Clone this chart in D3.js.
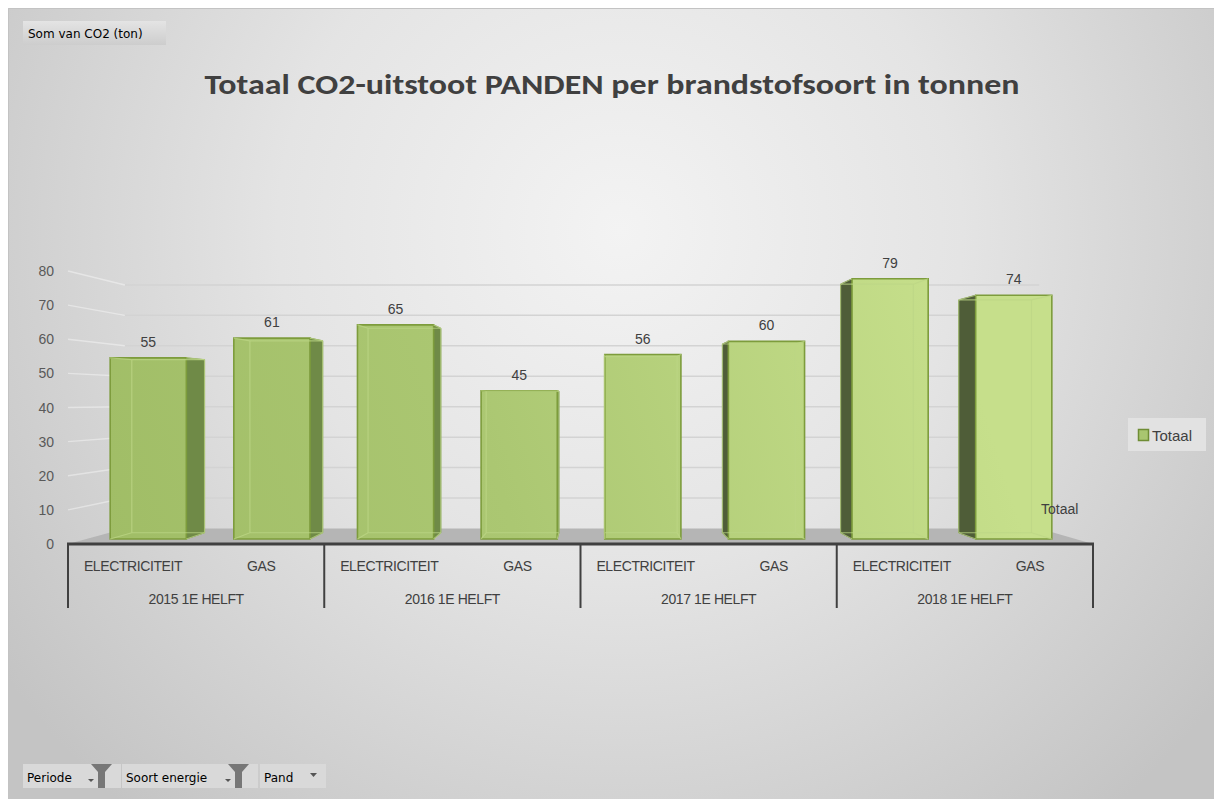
<!DOCTYPE html>
<html>
<head>
<meta charset="utf-8">
<script src="https://cdn.jsdelivr.net/npm/d3@7"></script>
<style>
  body { margin: 0; background: #fff; }
  svg { display: block; }
</style>
</head>
<body>
<svg id="chart" width="1214" height="799"></svg>
<script>
// data
var periods = ["2015 1E HELFT", "2016 1E HELFT", "2017 1E HELFT", "2018 1E HELFT"];
var energyTypes = ["ELECTRICITEIT", "GAS"];
var co2Values = [55, 61, 65, 45, 56, 60, 79, 74];
var yTicks = [0, 10, 20, 30, 40, 50, 60, 70, 80];
var seriesName = "Totaal";
var chartTitle = "Totaal CO2-uitstoot PANDEN per brandstofsoort in tonnen";
var fieldButtons = ["Periode", "Soort energie", "Pand"];

(function() {
    var svg = d3.select("#chart");
    var defs = svg.append("defs");
    var font = "'Liberation Sans', Arial, sans-serif";

    // rows: one entry per bar
    var rows = [];
    periods.forEach(function(p, pi) {
        energyTypes.forEach(function(e, ei) {
            rows.push({ period: p, energy: e, key: p + "|" + e, value: co2Values[pi * energyTypes.length + ei] });
        });
    });

    // front plane scales
    var left = 68, right = 1093;
    var x = d3.scaleBand().domain(rows.map(function(d) { return d.key; }))
        .range([left, right]).paddingInner(0.384).paddingOuter(0.192);
    var xGroup = d3.scaleBand().domain(periods).range([left, right]);
    var y = d3.scaleLinear().domain([0, 80]).range([544, 271]);

    // simple perspective: d = how far a point is pulled toward the vanishing point
    var vp = [595, 400];
    var barFront = 0.035, barBack = 0.078, wallDepth = 0.108;
    function P(px, py, d) {
        return [px + (vp[0] - px) * d, py + (vp[1] - py) * d];
    }
    function poly(pts) { return pts.map(function(p) { return p.join(","); }).join(" "); }

    // background
    var bg = defs.append("radialGradient").attr("id", "bg")
        .attr("gradientUnits", "userSpaceOnUse")
        .attr("cx", 620).attr("cy", 230).attr("r", 760);
    bg.append("stop").attr("offset", 0).attr("stop-color", "#f3f3f3");
    bg.append("stop").attr("offset", 0.45).attr("stop-color", "#e4e4e4");
    bg.append("stop").attr("offset", 1).attr("stop-color", "#c4c4c4");
    svg.append("rect").attr("x", 8).attr("y", 8).attr("width", 1206).attr("height", 791)
        .attr("fill", "url(#bg)");
    svg.append("path").attr("d", "M8.5,799V8.5H1214").attr("fill", "none").attr("stroke", "#c3c3c3");

    // title
    svg.append("text").attr("x", 612).attr("y", 94).attr("text-anchor", "middle")
        .attr("font-family", "Calibri, 'Open Sans', sans-serif").attr("font-weight", 700)
        .attr("font-size", 28).attr("fill", "#404040")
        .attr("textLength", 815).attr("lengthAdjust", "spacingAndGlyphs")
        .text(chartTitle);

    // floor
    svg.append("polygon")
        .attr("points", poly([P(left, y(0), 0), P(right, y(0), 0), P(right, y(0), wallDepth), P(left, y(0), wallDepth)]))
        .attr("fill", "#b5b5b5");

    // gridlines: side wall then back wall
    var grid = svg.append("g");
    grid.selectAll(".side").data(yTicks.slice(1)).enter().append("line")
        .attr("x1", function(v) { return P(left, y(v), 0)[0]; })
        .attr("y1", function(v) { return P(left, y(v), 0)[1]; })
        .attr("x2", function(v) { return P(left, y(v), wallDepth)[0]; })
        .attr("y2", function(v) { return P(left, y(v), wallDepth)[1]; })
        .attr("stroke", "#ffffff").attr("stroke-opacity", 0.4).attr("stroke-width", 1.5);
    grid.selectAll(".back").data(yTicks.slice(1)).enter().append("line")
        .attr("x1", function(v) { return P(left, y(v), wallDepth)[0]; })
        .attr("y1", function(v) { return P(left, y(v), wallDepth)[1]; })
        .attr("x2", function(v) { return P(right, y(v), wallDepth)[0]; })
        .attr("y2", function(v) { return P(right, y(v), wallDepth)[1]; })
        .attr("stroke", "#d3d3d3").attr("stroke-width", 1.5);

    // bar fill
    var gFront = defs.append("linearGradient").attr("id", "front")
        .attr("gradientUnits", "userSpaceOnUse")
        .attr("x1", 100).attr("y1", 540).attr("x2", 940).attr("y2", 270);
    gFront.append("stop").attr("offset", 0).attr("stop-color", "#a0bd66");
    gFront.append("stop").attr("offset", 0.45).attr("stop-color", "#abc772");
    gFront.append("stop").attr("offset", 1).attr("stop-color", "#c6df8b");

    var bars = svg.append("g").selectAll("g").data(rows).enter().append("g");
    bars.each(function(d) {
        var g = d3.select(this);
        var x0 = x(d.key), x1 = x0 + x.bandwidth(), yt = y(d.value), yb = y(0);
        var f = [P(x0, yt, barFront), P(x1, yt, barFront), P(x1, yb, barFront), P(x0, yb, barFront)];
        var b = [P(x0, yt, barBack), P(x1, yt, barBack), P(x1, yb, barBack), P(x0, yb, barBack)];
        // bottom face
        g.append("polygon").attr("points", poly([f[3], f[2], b[2], b[3]])).attr("fill", "#8fa95c");
        // side face
        if (f[1][0] < vp[0] - 30) {
            g.append("polygon").attr("points", poly([f[1], b[1], b[2], f[2]]))
                .attr("fill", "#6f8a47").attr("stroke", "#6a8640").attr("stroke-width", 1);
        } else if (f[0][0] > vp[0] + 30) {
            g.append("polygon").attr("points", poly([f[0], b[0], b[3], f[3]]))
                .attr("fill", "#4f5d38").attr("stroke", "#4a5834").attr("stroke-width", 1);
        }
        // front face
        g.append("polygon").attr("points", poly(f))
            .attr("fill", "url(#front)").attr("stroke", "#7d9c3c").attr("stroke-width", 1.6);
        // back edges seen through the glass
        var edges = [[b[0], b[3]], [b[1], b[2]], [b[3], b[2]], [b[0], b[1]], [f[3], b[3]], [f[2], b[2]], [f[0], b[0]], [f[1], b[1]]];
        g.selectAll("line").data(edges).enter().append("line")
            .attr("x1", function(e) { return e[0][0]; }).attr("y1", function(e) { return e[0][1]; })
            .attr("x2", function(e) { return e[1][0]; }).attr("y2", function(e) { return e[1][1]; })
            .attr("stroke", "#bcd686").attr("stroke-opacity", 0.75).attr("stroke-width", 1.2);
        // value label
        var top = P(x0 + x.bandwidth() / 2, yt, barFront);
        g.append("text").attr("x", top[0]).attr("y", top[1] - 11).attr("text-anchor", "middle")
            .attr("font-family", font).attr("font-size", 14).attr("fill", "#404040")
            .text(d.value);
    });

    // y axis labels
    svg.append("g").selectAll("text").data(yTicks).enter().append("text")
        .attr("x", 54).attr("y", function(v) { return y(v) + 5; })
        .attr("text-anchor", "end").attr("font-family", font).attr("font-size", 14)
        .attr("fill", "#595959").text(function(v) { return v; });

    // category axis with two levels
    var axis = svg.append("g");
    axis.selectAll(".div").data(periods.concat(["end"])).enter().append("line")
        .attr("x1", function(p, i) { return left + xGroup.step() * i; })
        .attr("x2", function(p, i) { return left + xGroup.step() * i; })
        .attr("y1", y(0)).attr("y2", 608)
        .attr("stroke", "#404040").attr("stroke-width", 2);
    axis.append("line").attr("x1", left - 1).attr("x2", right + 1).attr("y1", y(0)).attr("y2", y(0))
        .attr("stroke", "#404040").attr("stroke-width", 3);
    axis.selectAll(".cat").data(rows).enter().append("text")
        .attr("x", function(d) { return xGroup(d.period) + xGroup.bandwidth() * (energyTypes.indexOf(d.energy) * 2 + 1) / 4 + 1; })
        .attr("y", 571).attr("text-anchor", "middle")
        .attr("font-family", font).attr("font-size", 14).attr("fill", "#404040")
        .attr("letter-spacing", -0.4)
        .text(function(d) { return d.energy; });
    axis.selectAll(".per").data(periods).enter().append("text")
        .attr("x", function(p) { return xGroup(p) + xGroup.bandwidth() / 2; })
        .attr("y", 604).attr("text-anchor", "middle")
        .attr("font-family", font).attr("font-size", 14).attr("fill", "#404040")
        .attr("letter-spacing", -0.4)
        .text(function(p) { return p; });

    // series (depth) axis label
    svg.append("text").attr("x", 1041).attr("y", 514)
        .attr("font-family", font).attr("font-size", 14).attr("fill", "#404040")
        .text(seriesName);

    // legend
    var lg = svg.append("g");
    lg.append("rect").attr("x", 1128).attr("y", 418).attr("width", 78).attr("height", 33).attr("fill", "#e2e2e2");
    lg.append("rect").attr("x", 1138.5).attr("y", 429.5).attr("width", 10).attr("height", 11)
        .attr("fill", "#a9c670").attr("stroke", "#6f8d35").attr("stroke-width", 1.5);
    lg.append("text").attr("x", 1152).attr("y", 441).attr("font-family", font).attr("font-size", 15)
        .attr("fill", "#404040").text(seriesName);

    // pivot field buttons
    var bt = defs.append("linearGradient").attr("id", "btn").attr("x1", 0).attr("y1", 0).attr("x2", 0).attr("y2", 1);
    bt.append("stop").attr("offset", 0).attr("stop-color", "#e4e4e4");
    bt.append("stop").attr("offset", 1).attr("stop-color", "#cdcdcd");
    var btnFont = "'DejaVu Sans', Tahoma, sans-serif";
    svg.append("rect").attr("x", 23).attr("y", 21).attr("width", 143).attr("height", 24).attr("fill", "url(#btn)");
    svg.append("text").attr("x", 28).attr("y", 38).attr("font-family", btnFont).attr("font-size", 12)
        .attr("fill", "#000").text("Som van CO2 (ton)");

    var btnBoxes = [[23, 98, true], [122, 136, true], [260, 66, false]];
    fieldButtons.forEach(function(name, i) {
        var bx = btnBoxes[i][0], bw = btnBoxes[i][1], filtered = btnBoxes[i][2];
        svg.append("rect").attr("x", bx).attr("y", 764).attr("width", bw).attr("height", 24).attr("fill", "#d9d9d9");
        svg.append("text").attr("x", bx + 4).attr("y", 782).attr("font-family", btnFont).attr("font-size", 12)
            .attr("fill", "#000").text(name);
        var ax = bx + bw;
        if (filtered) {
            svg.append("path").attr("d", "M" + (ax - 33) + ",779h6l-3,3z").attr("fill", "#555");
            svg.append("path").attr("d", "M" + (ax - 30) + ",764h21l-7,8v16h-7v-16z").attr("fill", "#777");
        } else {
            svg.append("path").attr("d", "M" + (ax - 16) + ",773h7l-3.5,4z").attr("fill", "#555");
        }
    });
})();
</script>
</body>
</html>
